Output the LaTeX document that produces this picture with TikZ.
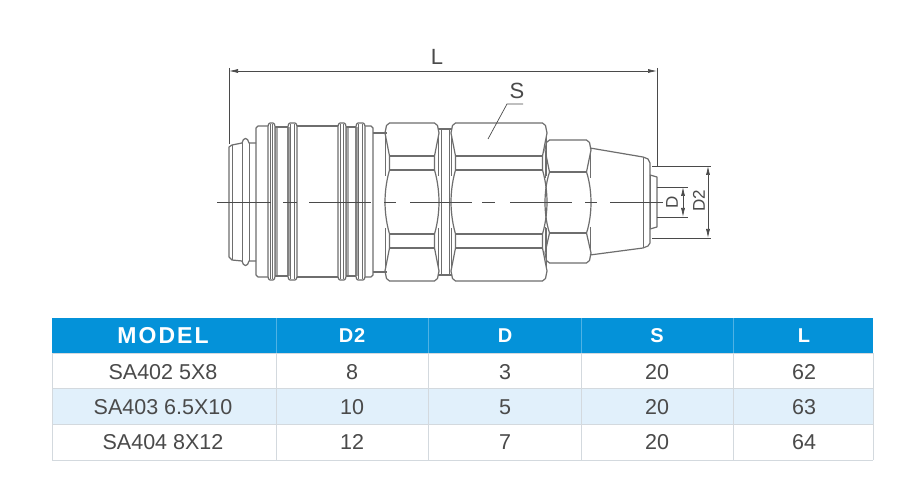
\documentclass[tikz,border=0pt]{standalone}
\usepackage{fontspec}
\setmainfont{Liberation Sans}
\usetikzlibrary{arrows.meta}
\definecolor{hdr}{HTML}{0492D9}
\definecolor{alt}{HTML}{E1F0FB}
\definecolor{grid}{HTML}{D3D9DE}
\definecolor{ink}{HTML}{4A4A4A}
\definecolor{part}{HTML}{6E6E6E}
\definecolor{strip}{HTML}{A8A8A8}
\tikzset{
  partline/.style={draw=part,line width=1.2pt,line join=round},
  thinline/.style={draw=part,line width=.8pt},
  centre/.style={draw=ink,line width=.7pt},
  dimline/.style={draw=ink,line width=.7pt},
  dimarrow/.style={dimline,{Latex[length=9pt,width=4pt]}-{Latex[length=9pt,width=4pt]}},
  dimtext/.style={text=ink,font=\fontsize{22}{22}\selectfont,inner sep=0pt},
  dimsmall/.style={text=ink,font=\fontsize{17}{17}\selectfont,inner sep=0pt,rotate=90},
  cell/.style={text=ink,font=\fontsize{21.5}{21.5}\selectfont,inner sep=0pt,anchor=center},
  headcell/.style={text=white,font=\fontsize{20}{20}\selectfont\bfseries,inner sep=0pt,anchor=center},
}
% hex nut: x1 x2 ytop y1 y2 y3 y4 ybot
\newcommand{\nutshape}[8]{%
  \pgfmathsetmacro{\xa}{#1}\pgfmathsetmacro{\xb}{#2}%
  \pgfmathsetmacro{\xaa}{#1+4.5}\pgfmathsetmacro{\xbb}{#2-4.5}%
  \pgfmathsetmacro{\xac}{#1+1.5}\pgfmathsetmacro{\xbc}{#2-1.5}%
  \pgfmathsetmacro{\yt}{#3+2.5}\pgfmathsetmacro{\yb}{#8-2.5}%
  \pgfmathsetmacro{\ym}{(#5+#6)/2}%
  \draw[partline] (\xaa,#3) -- (\xbb,#3) -- (\xbc,\yt) -- (\xb,#3+10) -- (\xbb,#4)
     -- (\xbb,#5) .. controls (\xb-1,\ym-20) and (\xb,\ym-8) .. (\xb,\ym)
     .. controls (\xb,\ym+8) and (\xb-1,\ym+20) .. (\xbb,#6) -- (\xbb,#7)
     -- (\xb,#8-10) -- (\xbc,\yb) -- (\xbb,#8) -- (\xaa,#8) -- (\xac,\yb) -- (\xa,#8-10)
     -- (\xaa,#7) -- (\xaa,#6) .. controls (\xa+1,\ym+20) and (\xa,\ym+8) .. (\xa,\ym)
     .. controls (\xa,\ym-8) and (\xa+1,\ym-20) .. (\xaa,#5) -- (\xaa,#4) -- (\xa,#3+10)
     -- (\xac,\yt) -- cycle;
  \draw[partline] (\xaa,#4) -- (\xbb,#4) (\xaa,#5) -- (\xbb,#5)
                  (\xaa,#6) -- (\xbb,#6) (\xaa,#7) -- (\xbb,#7);
  \draw[thinline] (\xa+.5,#3+14) -- (\xa+.5,#5+6) (\xb-.5,#3+14) -- (\xb-.5,#5+6)
                  (\xa+.5,#6-6) -- (\xa+.5,#8-14) (\xb-.5,#6-6) -- (\xb-.5,#8-14);
}
% one grip rib: left, right
\newcommand{\ribshape}[2]{%
  \draw[partline] (#1,128) .. controls (#1,124) and (#1+1,123) .. (#1+2,123) -- (#2-2,123)
     .. controls (#2-1,123) and (#2,124) .. (#2,128) -- (#2,275)
     .. controls (#2,279) and (#2-1,280) .. (#2-2,280) -- (#1+2,280)
     .. controls (#1+1,280) and (#1,279) .. (#1,275) -- cycle;
  \draw[thinline] (#1+2.5,124) -- (#1+2.5,279) (#2-2.5,124) -- (#2-2.5,279);
}
\begin{document}
\begin{tikzpicture}[x=1pt,y=-1pt]
\useasboundingbox (0,0) rectangle (904,502);
\fill[white] (0,0) rectangle (904,502);

% ---------- coupling body
% nose
\draw[partline] (256,143) -- (249,143) .. controls (248,137) and (243,137) .. (242,143)
  -- (232,145) -- (229,147) -- (229,257) -- (232,260) -- (242,261)
  .. controls (243,267) and (248,267) .. (249,261) -- (256,261);
\draw[thinline] (232,145) -- (232,260) (242,143) -- (242,261) (249,143) -- (249,261);
% body
\draw[partline] (268,126) -- (258,126) -- (256,128) -- (256,275) -- (258,277) -- (268,277);
\draw[partline] (297,126) -- (338,126) (297,277) -- (338,277);
\draw[partline] (365,126) -- (371,126) -- (373,128) -- (373,275) -- (371,277) -- (365,277);
% grip ribs
\foreach \xa/\xb/\xc/\xd in {268/275/288/297,338/346/356/365}{
  \fill[strip] (\xb,127) rectangle (\xb+3,276);
  \fill[strip] (\xc-1,127) rectangle (\xc+2,276);
  \draw[partline] (\xb,127) -- (\xc,127) (\xb,276) -- (\xc,276);
  \ribshape{\xa}{\xb}
  \ribshape{\xc}{\xd}
}
% necks
\draw[partline] (373,133) -- (387,133) (373,272) -- (387,272);
\draw[partline] (438,129) -- (452,129) (438,275) -- (452,275);
\draw[thinline] (441,129) -- (441,275) (449,129) -- (449,275);
% nuts
\nutshape{385}{439}{123}{156}{170}{234}{248}{281}
\nutshape{451}{547}{123}{156}{170}{234}{248}{281}
\nutshape{545}{591}{140}{172}{172}{233}{233}{263}
% cone and tail
\draw[partline] (590,148) -- (643,157) -- (648,159) -- (650,163) -- (650,243) -- (648,246) -- (643,248) -- (590,255);
\draw[thinline] (643,157) -- (643,248);
\draw[partline] (650,175) -- (657,177) -- (657,227) -- (650,229);
\draw[thinline] (650,175) -- (650,229);

% ---------- centre line
\foreach \a/\b in {217/271,283/297,309/371,384/396,410/472,482/495,510/572,585/597,610/663}{
  \draw[centre] (\a,202) -- (\b,202);
}

% ---------- dimensions
\coordinate (Ll) at (229,71);  \coordinate (Lr) at (657,71);
\coordinate (Lls) at (229,68); \coordinate (Lle) at (229,144);
\coordinate (Lrs) at (657,68); \coordinate (Lre) at (657,166);
\draw[dimline] (Lls) -- (Lle);
\draw[dimline] (Lrs) -- (Lre);
\draw[dimarrow] (Ll) -- (Lr);
\node[dimtext] (labelL) at (437,57) {L};

\coordinate (Sa) at (523,104); \coordinate (Sb) at (507,104); \coordinate (Sc) at (488,139);
\draw[dimline] (Sa) -- (Sb) -- (Sc);
\node[dimtext] (labelS) at (517,91) {S};

\coordinate (D2ta) at (652,166); \coordinate (D2tb) at (711,166);
\coordinate (D2ba) at (652,238); \coordinate (D2bb) at (711,238);
\coordinate (D2u) at (708,166);  \coordinate (D2d) at (708,238);
\draw[dimline] (D2ta) -- (D2tb);
\draw[dimline] (D2ba) -- (D2bb);
\draw[dimarrow] (D2u) -- (D2d);
\node[dimsmall] (labelDtwo) at (699,201) {D2};

\coordinate (Dta) at (657,187); \coordinate (Dtb) at (688,187);
\coordinate (Dba) at (657,217); \coordinate (Dbb) at (688,217);
\coordinate (Du) at (683,187);  \coordinate (Dd) at (683,217);
\draw[dimline] (Dta) -- (Dtb);
\draw[dimline] (Dba) -- (Dbb);
\draw[dimarrow] (Du) -- (Dd);
\node[dimsmall] (labelD) at (672,202) {D};

% ---------- table
\fill[hdr] (52,318) rectangle (873,353);
\fill[alt] (52,388) rectangle (873,424);
\draw[grid,line width=.9pt] (52,353) -- (873,353) (52,388) -- (873,388) (52,424) -- (873,424)
   (52,460) -- (873,460) (52,353) -- (52,460) (873,353) -- (873,460);
\foreach \x in {276,428,581,733}{
  \draw[grid,line width=.9pt] (\x,353) -- (\x,460);
  \draw[white,opacity=.3,line width=.9pt] (\x,318) -- (\x,353);
}
\node[headcell,font=\fontsize{23}{23}\selectfont\bfseries] (hm) at (163,336) {\addfontfeatures{LetterSpace=9}MODEL};
\node[headcell] (hd2) at (352,336) {\addfontfeatures{LetterSpace=4}D2};
\node[headcell] (hd) at (505,336) {D};
\node[headcell] (hs) at (657,336) {S};
\node[headcell] (hl) at (804,336) {L};
\node[cell] (a1) at (163,372) {SA402 5X8};
\node[cell] (a2) at (352,372) {8};
\node[cell] (a3) at (505,372) {3};
\node[cell] (a4) at (657,372) {20};
\node[cell] (a5) at (804,372) {62};
\node[cell] (b1) at (163,407) {SA403 6.5X10};
\node[cell] (b2) at (352,407) {10};
\node[cell] (b3) at (505,407) {5};
\node[cell] (b4) at (657,407) {20};
\node[cell] (b5) at (804,407) {63};
\node[cell] (c1) at (163,442) {SA404 8X12};
\node[cell] (c2) at (352,442) {12};
\node[cell] (c3) at (505,442) {7};
\node[cell] (c4) at (657,442) {20};
\node[cell] (c5) at (804,442) {64};
\end{tikzpicture}
\end{document}
